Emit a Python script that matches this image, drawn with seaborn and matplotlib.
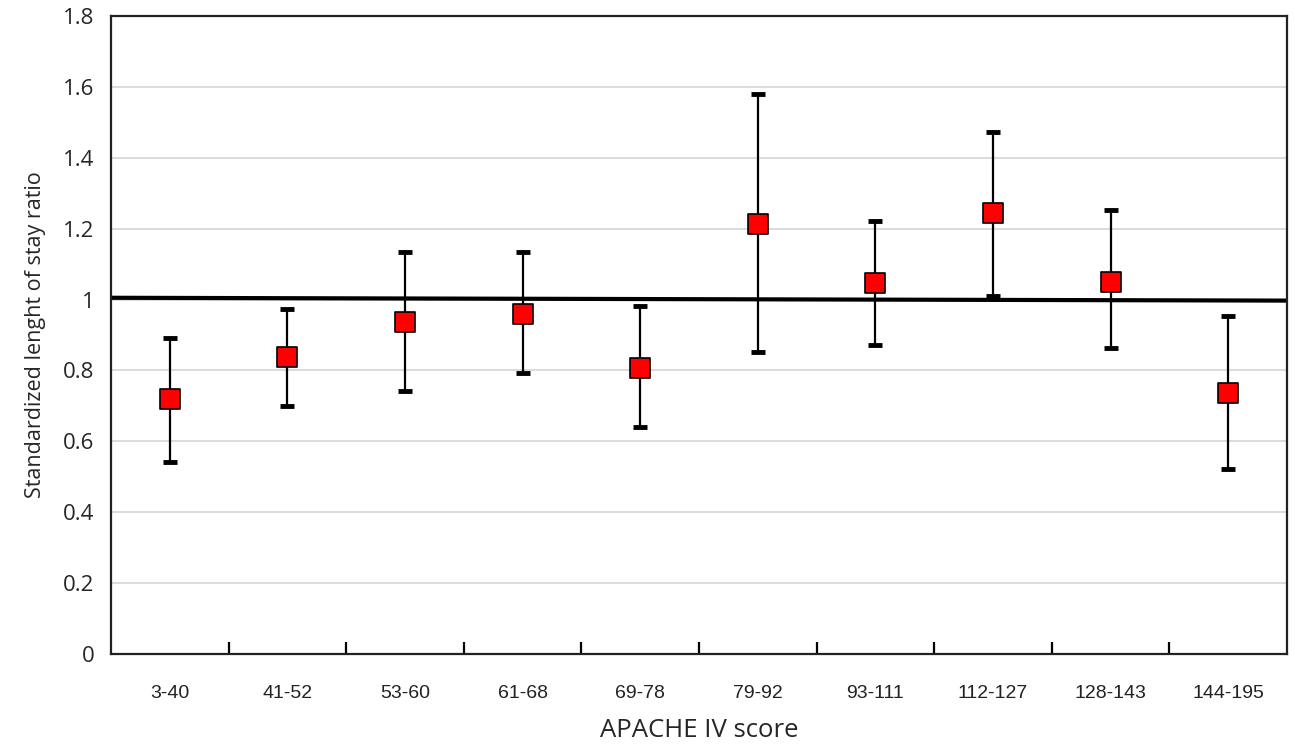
import numpy as np
import pandas as pd
import matplotlib
matplotlib.use("Agg")
import matplotlib.pyplot as plt
import seaborn as sns

# data
score_groups = ["3-40", "41-52", "53-60", "61-68", "69-78",
                "79-92", "93-111", "112-127", "128-143", "144-195"]
slos_ratio = [0.72, 0.838, 0.936, 0.959, 0.807, 1.213, 1.047, 1.244, 1.05, 0.736]
ci_lower = [0.542, 0.70, 0.742, 0.793, 0.64, 0.852, 0.872, 1.01, 0.863, 0.522]
ci_upper = [0.892, 0.973, 1.134, 1.134, 0.983, 1.58, 1.222, 1.473, 1.253, 0.953]
ref_line_y = [1.005, 0.997]

df = pd.DataFrame({"pos": np.arange(len(score_groups)), "group": score_groups,
                   "ratio": slos_ratio, "lo": ci_lower, "hi": ci_upper})

sns.set_style("white")
plt.rcParams["font.family"] = ["Open Sans", "DejaVu Sans"]

fig = plt.figure(figsize=(12.95, 7.44), dpi=100)
ax = fig.add_axes([0.0857, 0.121, 0.9081, 0.8575])

# grid
ax.set_ylim(0, 1.8)
ax.set_yticks(np.arange(0, 1.81, 0.2))
ax.yaxis.grid(True, color="#d4d4d4", linewidth=1.2)
ax.set_axisbelow(True)

# reference line at 1
xlim = (-0.5, len(score_groups) - 0.5)
ax.plot(xlim, ref_line_y, color="black", linewidth=3, zorder=2)

# error bars
yerr = np.array([df["ratio"] - df["lo"], df["hi"] - df["ratio"]])
ax.errorbar(df["pos"], df["ratio"], yerr=yerr, fmt="none", ecolor="black",
            elinewidth=1.6, capsize=5, capthick=3.5, zorder=3)

# markers
sns.scatterplot(data=df, x="pos", y="ratio", marker="s", s=190,
                color="#ff0000", edgecolor="black", linewidth=1.2,
                ax=ax, zorder=4, legend=False)

ax.set_xlim(*xlim)
# boundary ticks (major, no label), labels at centers (minor)
ax.set_xticks(np.arange(0.5, len(score_groups) - 1, 1.0))
ax.set_xticklabels([])
ax.set_xticks(df["pos"], minor=True)
ax.set_xticklabels(score_groups, minor=True, fontsize=14,
                   family=["Liberation Sans", "DejaVu Sans"], color="#222222")
ax.tick_params(axis="x", which="major", direction="in", length=9, width=1.6,
               color="black", bottom=True)
ax.tick_params(axis="x", which="minor", length=0, pad=22)
ax.tick_params(axis="y", length=0, labelsize=16, pad=12)

yt = [f"{v:g}" for v in np.round(np.arange(0, 1.81, 0.2), 1)]
ax.set_yticklabels(yt)

for s in ax.spines.values():
    s.set_visible(True)
    s.set_color("#222222")
    s.set_linewidth(1.6)

ax.set_xlabel("APACHE IV score", fontsize=18.5, labelpad=12)
ax.set_ylabel("Standardized lenght of stay ratio", fontsize=15.5, labelpad=12)

fig.savefig("out.png", dpi=100)
